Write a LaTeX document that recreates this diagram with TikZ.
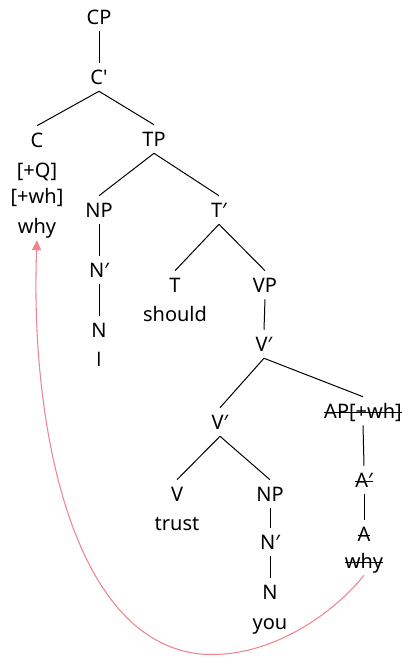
\documentclass[tikz,border=0pt]{standalone}
\usepackage{fontspec}
\setmainfont{Noto Sans}
\newfontfamily\plainfont{Open Sans}
\usetikzlibrary{arrows.meta}
\definecolor{movecol}{RGB}{240,133,143}
\newsavebox{\strikebox}
\newcommand{\strike}[1]{\sbox{\strikebox}{#1}\rlap{\usebox{\strikebox}}\rule[4.3pt]{\wd\strikebox}{0.7pt}}
\newcommand{\tick}{\XeTeXglyph\XeTeXglyphindex "quotesingle"\relax}

\begin{document}
\begin{tikzpicture}[x=0.75pt,y=-0.75pt,
  cat/.style={font=\fontsize{15}{18}\selectfont, text height=11pt, text depth=0pt, inner xsep=1pt, inner ysep=5pt},
  branch/.style={line width=0.75pt},
  movement/.style={draw=movecol, line width=0.8pt, -{Triangle[length=7.5pt,width=7pt]}}]

\useasboundingbox (0,0) rectangle (401,657);

% CP and C-bar
\node[cat] (cp) at (99,17) {CP};
\node[cat] (cbar) at (99,77) {C\tick};

% Complementizer with features
\node[cat] (c) at (37,140) {C};
\node[cat] (cq) at (37,170) {[+Q]};
\node[cat] (cwh) at (37,196) {[+wh]};
\node[cat] (cwhy) at (37,226) {why};

% TP and subject
\node[cat] (tp) at (154,139) {TP};
\node[cat] (np1) at (99,210) {NP};
\node[cat] (nbar1) at (99,270) {N′};
\node[cat] (n1) at (99,330) {N};
\node[cat] (subj) at (99,359) {\plainfont I};

% T-bar
\node[cat] (tbar) at (219,210) {T′};
\node[cat] (t) at (175,285) {T};
\node[cat] (should) at (175,314) {should};

% VP
\node[cat] (vp) at (265,285) {VP};
\node[cat] (vbar1) at (264,344) {V′};
\node[cat] (vbar2) at (220,422) {V′};
\node[cat] (v) at (177,494) {V};
\node[cat] (trust) at (177,523) {trust};

% Object
\node[cat] (np2) at (270,494) {NP};
\node[cat] (nbar2) at (270,542) {N′};
\node[cat] (n2) at (270,592) {N};
\node[cat] (you) at (270,622) {you};

% Moved adjunct (struck out)
\node[cat] (ap) at (363,411) {\strike{AP[+wh]}};
\node[cat] (abar) at (364,480) {\strike{A′}};
\node[cat] (a) at (364,534) {\strike{A}};
\node[cat] (awhy) at (364,561) {\strike{why}};

% Branches
\draw[branch] (cp.south) -- (cbar.north);
\draw[branch] (cbar.south) -- (c.north);
\draw[branch] (cbar.south) -- (tp.north);
\draw[branch] (tp.south) -- (np1.north);
\draw[branch] (tp.south) -- (tbar.north);
\draw[branch] (np1.south) -- (nbar1.north);
\draw[branch] (nbar1.south) -- (n1.north);
\draw[branch] (tbar.south) -- (t.north);
\draw[branch] (tbar.south) -- (vp.north);
\draw[branch] (vp.south) -- (vbar1.north);
\draw[branch] (vbar1.south) -- (vbar2.north);
\draw[branch] (vbar1.south) -- (ap.north);
\draw[branch] (vbar2.south) -- (v.north);
\draw[branch] (vbar2.south) -- (np2.north);
\draw[branch] (np2.south) -- (nbar2.north);
\draw[branch] (nbar2.south) -- (n2.north);
\draw[branch] (ap.south) -- (abar.north);
\draw[branch] (abar.south) -- (a.north);

% Movement arrow
\coordinate (dip) at (200,654);
\draw[movement] (awhy.south) .. controls (335,612) and (270,660) .. (dip)
  .. controls (70,640) and (30,420) .. (cwhy.south);

\end{tikzpicture}
\end{document}
